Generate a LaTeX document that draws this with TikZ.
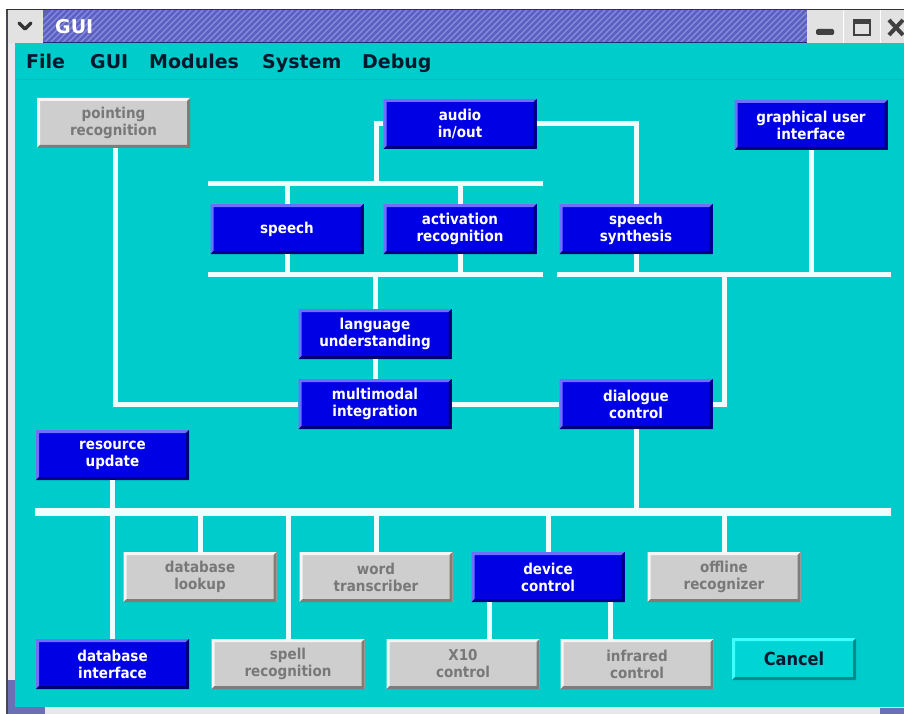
\documentclass[tikz,border=0pt]{standalone}
\usepackage{fontspec}
\setmainfont{DejaVu Sans}
\newfontfamily\boxfont{DejaVu Sans}[FakeStretch=0.9]
\definecolor{cyanbg}{RGB}{0,204,204}
\definecolor{menusep}{RGB}{0,190,190}
\definecolor{titleline}{RGB}{40,40,110}
\definecolor{bxblue}{RGB}{0,0,228}
\definecolor{bxbluehi}{RGB}{110,110,255}
\definecolor{bxbluelo}{RGB}{0,0,120}
\definecolor{bxgray}{RGB}{206,206,206}
\definecolor{bxgrayhi}{RGB}{246,246,246}
\definecolor{bxgraylo}{RGB}{125,125,125}
\definecolor{graytext}{RGB}{120,120,120}
\definecolor{wirecol}{RGB}{238,255,255}
\definecolor{titleblue}{RGB}{92,96,192}
\definecolor{titlestripe}{RGB}{138,142,222}
\definecolor{btngray}{RGB}{226,226,226}
\definecolor{menutext}{RGB}{0,25,45}
\definecolor{cancelhi}{RGB}{60,255,255}
\definecolor{cancello}{RGB}{0,140,140}
\definecolor{cancelfill}{RGB}{0,212,212}
\definecolor{framelight}{RGB}{232,232,236}
\definecolor{framedark}{RGB}{70,70,80}
\definecolor{frameblue}{RGB}{105,112,180}
\tikzset{
  bevel/.style 2 args={path picture={
    \fill[#1] (path picture bounding box.south west) -- (path picture bounding box.north west)
      -- (path picture bounding box.north east) -- ([shift={(-3pt,-3pt)}]path picture bounding box.north east)
      -- ([shift={(3pt,-3pt)}]path picture bounding box.north west) -- ([shift={(3pt,3pt)}]path picture bounding box.south west) -- cycle;
    \fill[#2] (path picture bounding box.south west) -- (path picture bounding box.south east)
      -- (path picture bounding box.north east) -- ([shift={(-3pt,-3pt)}]path picture bounding box.north east)
      -- ([shift={(-3pt,3pt)}]path picture bounding box.south east) -- ([shift={(3pt,3pt)}]path picture bounding box.south west) -- cycle;
  }},
  modbox/.style={rectangle, inner sep=0pt, minimum width=153pt, minimum height=50pt, align=center,
    font=\boxfont\bfseries\fontsize{15}{17}\selectfont},
  bluebox/.style={modbox, fill=bxblue, text=white, bevel={bxbluehi}{bxbluelo}},
  graybox/.style={modbox, fill=bxgray, text=graytext, bevel={bxgrayhi}{bxgraylo}},
  cancelbox/.style={rectangle, inner sep=0pt, minimum width=124pt, minimum height=42pt, fill=cancelfill,
    text=menutext, font=\boxfont\bfseries\fontsize{18}{20}\selectfont, bevel={cancelhi}{cancello}},
  wire/.style={draw=wirecol, line width=5pt},
  mainwire/.style={draw=wirecol, line width=8pt},
  menuitem/.style={anchor=base west, inner sep=0pt, text=menutext, font=\bfseries\fontsize{19}{21}\selectfont},
}
\begin{document}
\begin{tikzpicture}[x=1pt,y=-1pt]
\useasboundingbox (0,0) rectangle (904,714);
% window frame
\fill[white] (0,0) rectangle (904,714);
\fill[framedark] (6,9) rectangle (8,714);
\fill[framelight] (8,9) rectangle (15,714);
\fill[framelight] (15,707) rectangle (904,714);
\fill[frameblue] (8,680) rectangle (45,714);
\fill[frameblue] (880,708) rectangle (904,714);
\fill[cyanbg] (15,43) rectangle (904,707);
\draw[menusep, line width=1pt] (15,79.5) -- (904,79.5);
% title bar
\fill[btngray] (8,9) rectangle (43,43);
\fill[titleblue] (43,10) rectangle (807,43);
\begin{scope}
  \clip (43,11) rectangle (807,42);
  \foreach \x in {20,26,...,820} \draw[titlestripe, line width=1.3pt] (\x,43) -- (\x+33,10);
\end{scope}
\draw[black!80, line width=1pt] (6,9.5) -- (904,9.5);
\draw[titleline, line width=1.2pt] (43,42.4) -- (807,42.4);
\fill[btngray] (807,10) rectangle (904,43);
\draw[white, line width=1pt] (843.5,10) -- (843.5,43);
\draw[white, line width=1pt] (880.5,10) -- (880.5,43);
\draw[black!80, line width=3.5pt, line cap=round, line join=round] (19,23) -- (25,29) -- (31,23);
\node[anchor=west, inner sep=0pt, text=white, font=\bfseries\fontsize{19}{21}\selectfont] (title) at (55,27) {GUI};
\fill[black!75, rounded corners=1.5pt] (816,29) rectangle (834,35);
\draw[black!75, line width=2pt] (854,20) rectangle (870,35);
\fill[black!75] (853,19) rectangle (871,24);
\draw[black!75, line width=4pt] (889,20) -- (903,35) (889,35) -- (903,20);
% menu
\node[menuitem] (mFile) at (26,69) {File};
\node[menuitem] (mGUI) at (90,69) {GUI};
\node[menuitem] (mMod) at (149,69) {Modules};
\node[menuitem] (mSys) at (262,69) {System};
\node[menuitem] (mDbg) at (362,69) {Debug};
% modules
\node[graybox] (pr) at (113.5,123) {pointing\\recognition};
\node[bluebox] (audio) at (460,124) {audio\\in/out};
\node[bluebox] (gui) at (811,125) {graphical user\\interface};
\node[bluebox] (speech) at (287,229) {speech};
\node[bluebox] (act) at (460,229) {activation\\recognition};
\node[bluebox] (synth) at (636,229) {speech\\synthesis};
\node[bluebox] (lu) at (375,334) {language\\understanding};
\node[bluebox] (mm) at (375,404) {multimodal\\integration};
\node[bluebox] (dlg) at (636,404) {dialogue\\control};
\node[bluebox] (ru) at (112.5,455) {resource\\update};
\node[graybox] (dbl) at (200,577) {database\\lookup};
\node[graybox] (wt) at (376,577) {word\\transcriber};
\node[bluebox] (dc) at (548,577) {device\\control};
\node[graybox] (off) at (724,577) {offline\\recognizer};
\node[bluebox] (dbi) at (112.5,664) {database\\interface};
\node[graybox] (spell) at (288,664) {spell\\recognition};
\node[graybox] (x10) at (463,664) {X10\\control};
\node[graybox] (ir) at (637,664) {infrared\\control};
\node[cancelbox] (cancel) at (794,659) {Cancel};
% buses
\coordinate (bA1) at (208,184); \coordinate (bA2) at (543,184);
\coordinate (bB1) at (208,274); \coordinate (bB2) at (543,274);
\coordinate (bC1) at (557,274); \coordinate (bC2) at (891,274);
\coordinate (bM1) at (35,512);  \coordinate (bM2) at (891,512);
\coordinate (jA) at (376,184);
\coordinate (jC) at (724,274);
\coordinate (dcL) at (489,600);
\coordinate (dcR) at (610,600);
\draw[wire] (bA1) -- (bA2);
\draw[wire] (bB1) -- (bB2);
\draw[wire] (bC1) -- (bC2);
\draw[mainwire] (bM1) -- (bM2);
% connectors
\draw[wire] (audio.west) -| (jA);
\draw[wire] (audio.east) -| (synth.north);
\draw[wire] (speech.north) -- (speech.north |- bA1);
\draw[wire] (act.north) -- (act.north |- bA1);
\draw[wire] (speech.south) -- (speech.south |- bB1);
\draw[wire] (act.south) -- (act.south |- bB1);
\draw[wire] (lu.north) -- (lu.north |- bB1);
\draw[wire] (lu.south) -- (mm.north);
\draw[wire] (synth.south) -- (synth.south |- bC1);
\draw[wire] (gui.south) -- (gui.south |- bC1);
\draw[wire] (jC) |- (dlg.east);
\draw[wire] ([xshift=1.5pt]pr.south) |- (mm.west);
\draw[wire] (mm.east) -- (dlg.west);
\draw[wire] (dlg.south) -- (dlg.south |- bM1);
\draw[wire] (ru.south) -- (dbi.north);
\draw[wire] (dbl.north) -- (dbl.north |- bM1);
\draw[wire] (spell.north) -- (spell.north |- bM1);
\draw[wire] (wt.north) -- (wt.north |- bM1);
\draw[wire] (dc.north) -- (dc.north |- bM1);
\draw[wire] (off.north) -- (off.north |- bM1);
\draw[wire] (dc.south -| dcL) -- (x10.north -| dcL);
\draw[wire] (dc.south -| dcR) -- (ir.north -| dcR);
\end{tikzpicture}
\end{document}
